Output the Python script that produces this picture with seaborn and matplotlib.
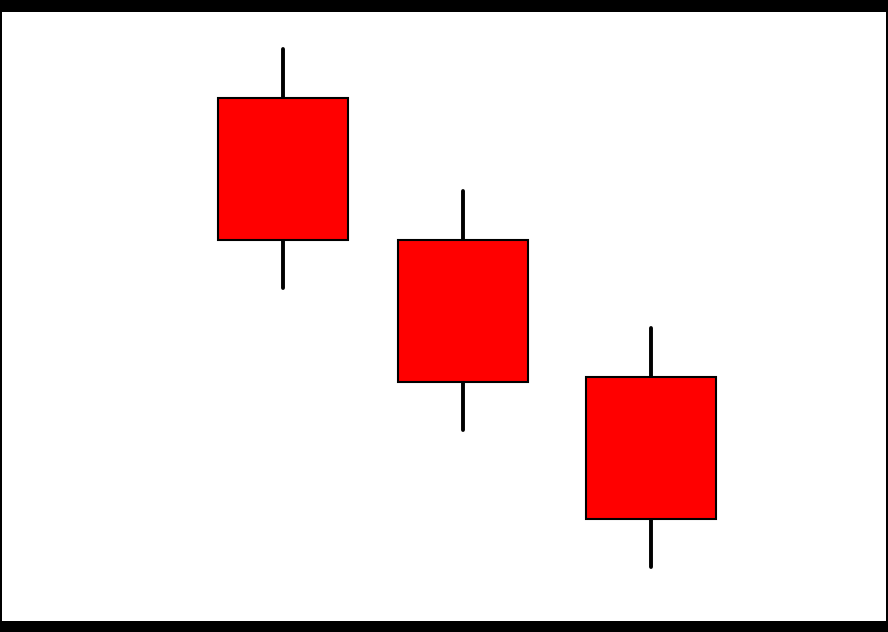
import matplotlib
matplotlib.use("Agg")
import matplotlib.pyplot as plt
import seaborn as sns
import pandas as pd

# Data (bearish candles)
days = [1.0, 2.0, 3.045]
open_ = [52.3, 38.1, 24.4]
close = [38.1, 23.9, 10.2]
high = [57.2, 43.0, 29.3]
low = [33.3, 19.1, 5.4]

sns.set_style("white")

fig = plt.figure(figsize=(8.88, 6.32), dpi=100, facecolor="black")
ax = fig.add_axes([2 / 888, 11 / 632, 884 / 888, 609 / 632])
ax.set_facecolor("white")

# wicks via seaborn lineplot
wick_rows = []
for d, lo, hi in zip(days, low, high):
    wick_rows.append({"day": d, "price": lo, "id": d})
    wick_rows.append({"day": d, "price": hi, "id": d})
wicks = pd.DataFrame(wick_rows)
sns.lineplot(data=wicks, x="day", y="price", units="id", estimator=None,
             color="black", linewidth=2.8, ax=ax, zorder=1, legend=False)

# bodies
heights = [c - o for o, c in zip(open_, close)]
ax.bar(days, heights, bottom=open_, width=0.7222, color="#ff0000",
       edgecolor="black", linewidth=1.5, zorder=2)

ax.set_xlim(-0.5611, 4.35)
ax.set_ylim(0, 60.9)
ax.set_xlabel("")
ax.set_ylabel("")
ax.set_xticks([])
ax.set_yticks([])
for s in ax.spines.values():
    s.set_visible(False)

fig.savefig("out.png", dpi=100, facecolor="black")
